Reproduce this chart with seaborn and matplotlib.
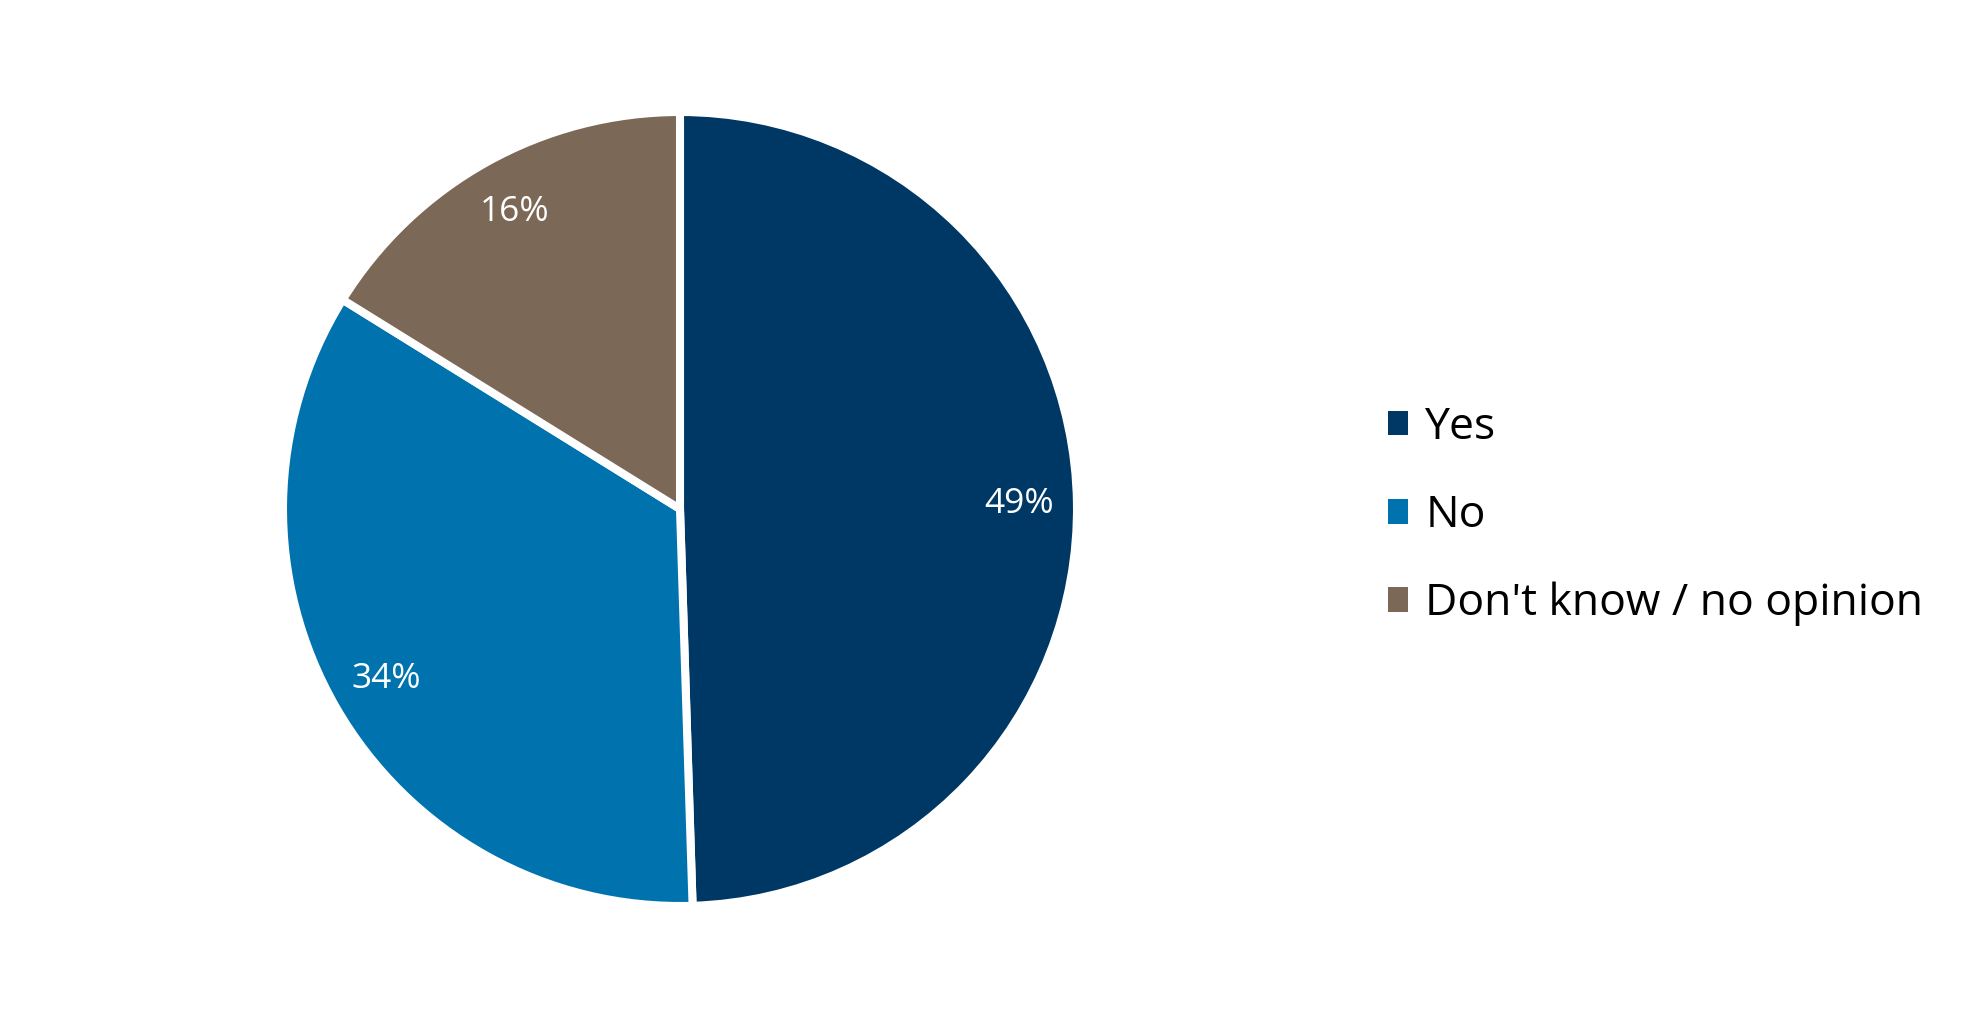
import matplotlib
matplotlib.use("Agg")
import matplotlib.pyplot as plt
import seaborn as sns
import numpy as np

categories = ["Yes", "No", "Don't know / no opinion"]
values = [49, 34, 16]
labels_pct = ["49%", "34%", "16%"]
colors = ["#003865", "#0073AE", "#7B6856"]

sns.set_theme(style="white")
plt.rcParams['font.family'] = ['Open Sans', 'DejaVu Sans']

W, H = 1970, 1022
fig = plt.figure(figsize=(W / 100, H / 100), dpi=100)
fig.patch.set_facecolor("white")

cx, cy, r = 680, 1022 - 509, 397
ax = fig.add_axes([(cx - r) / W, (cy - r) / H, 2 * r / W, 2 * r / H])

wedges, texts = ax.pie(
    values,
    colors=colors,
    startangle=90,
    counterclock=False,
    wedgeprops=dict(edgecolor="white", linewidth=5.8),
)
for w, lab in zip(wedges, labels_pct):
    mid = np.deg2rad((w.theta1 + w.theta2) / 2)
    ax.text(0.855 * np.cos(mid), 0.855 * np.sin(mid), lab, ha="center", va="center",
            color="white", fontsize=25.5)
ax.set_xlim(-1, 1)
ax.set_ylim(-1, 1)
ax.set_aspect("equal")
ax.axis("off")

leg = fig.legend(
    wedges, categories,
    loc="center left",
    bbox_to_anchor=(1388 / W, 1 - 516 / H),
    frameon=False,
    fontsize=32,
    borderaxespad=0,
    borderpad=0,
    handlelength=0.46,
    handleheight=0.46,
    handletextpad=0.38,
    labelspacing=0.98,
)
for h in leg.legend_handles:
    h.set_edgecolor("none")
for t in leg.get_texts():
    t.set_color("black")

fig.savefig("out.png", dpi=100, facecolor="white")
